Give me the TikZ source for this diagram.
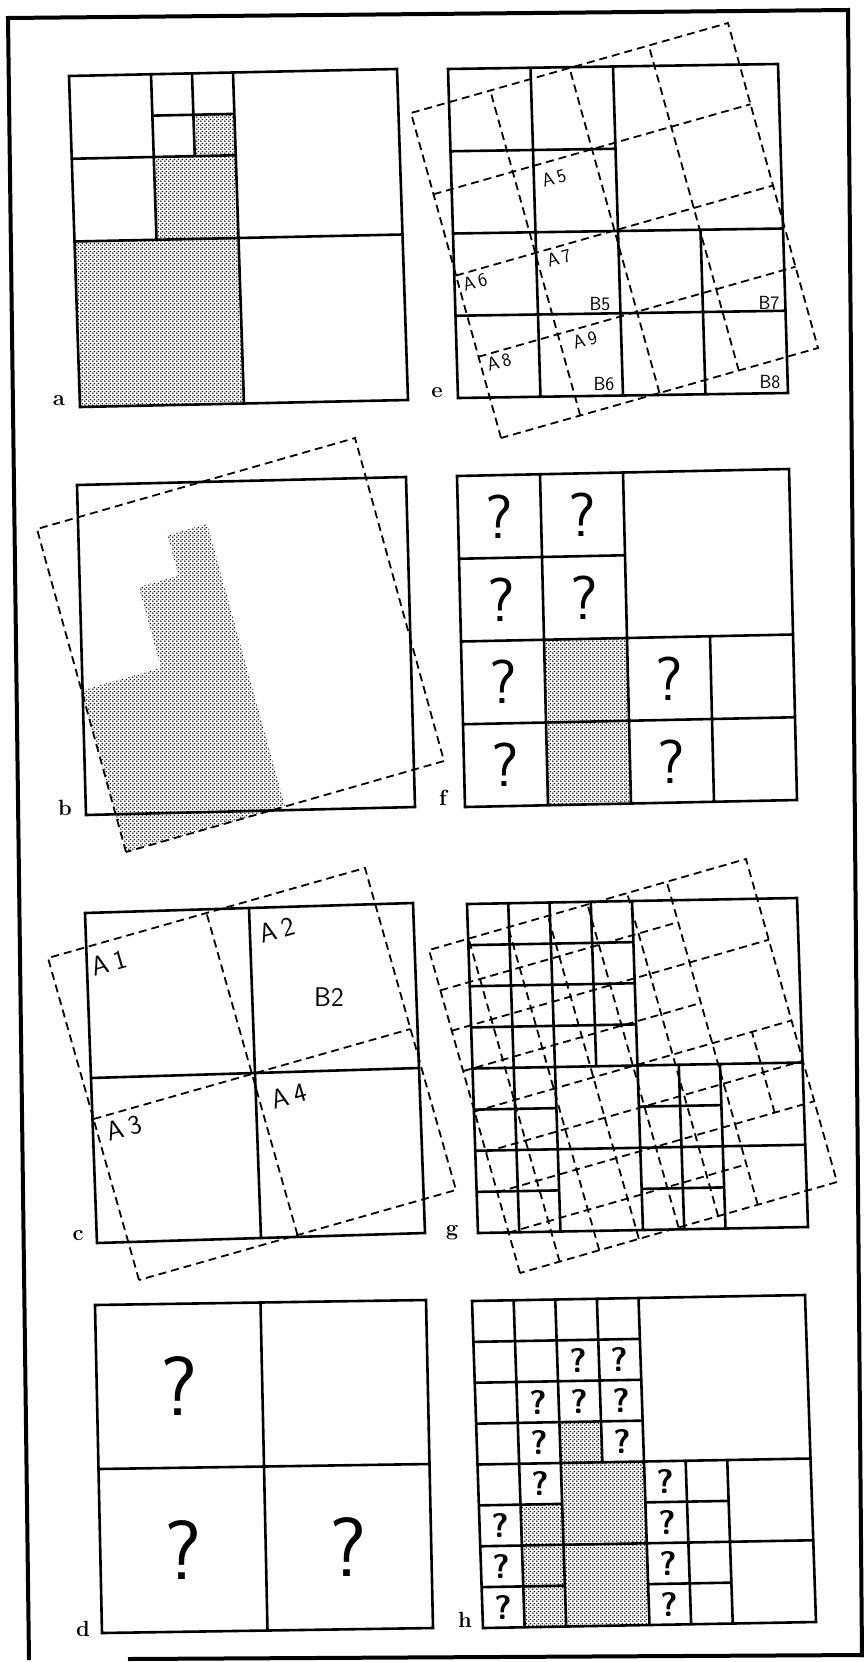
\documentclass[tikz,border=0pt]{standalone}
\usetikzlibrary{patterns}
\pgfdeclarepatternformonly{stipple}{\pgfqpoint{0pt}{0pt}}{\pgfqpoint{4pt}{4pt}}{\pgfqpoint{4pt}{4pt}}{%
  \pgfpathcircle{\pgfqpoint{1pt}{1pt}}{0.95pt}%
  \pgfpathcircle{\pgfqpoint{3pt}{3pt}}{0.95pt}%
  \pgfusepath{fill}}
\tikzset{
  fr/.style n args={6}{x=1pt,y=1pt,cm={#3,#4,#5,#6,(#1pt,#2pt)}},
  sol/.style={line width=2.6pt, line join=miter},
  dsh/.style={line width=1.8pt, dash pattern=on 8pt off 5pt},
  shade/.style={pattern=stipple, pattern color=black},
  plab/.style={font=\fontsize{22}{22}\selectfont\bfseries, anchor=base, inner sep=0pt},
  clab/.style={font=\fontsize{27}{27}\selectfont\sffamily, inner sep=0pt},
  elab/.style={font=\fontsize{19}{19}\selectfont\sffamily, inner sep=0pt},
  rot/.style={rotate=16},
  qf/.style={font=\fontsize{62}{62}\selectfont\sffamily, inner sep=0pt},
  qd/.style={font=\fontsize{84}{84}\selectfont\sffamily, inner sep=0pt},
  qh/.style={font=\fontsize{34}{34}\selectfont\sffamily\bfseries, inner sep=0pt},
}
\newcommand{\rl}[2]{#1\kern3.5pt#2}
\newcommand{\rL}[2]{#1\kern5.5pt#2}
\newcommand{\gridGH}{%
  (0,0) rectangle (1,1)
  (.5,0)--(.5,1) (0,.5)--(1,.5)
  (.125,0)--(.125,1) (.25,0)--(.25,1) (.375,.5)--(.375,1)
  (0,.625)--(.5,.625) (0,.75)--(.5,.75) (0,.875)--(.5,.875)
  (0,.375)--(.25,.375) (0,.125)--(.25,.125) (0,.25)--(1,.25)
  (.625,0)--(.625,.5) (.75,0)--(.75,.5) (.5,.375)--(.75,.375) (.5,.125)--(.75,.125)}
\newcommand{\gridEF}{%
  (0,0) rectangle (1,1)
  (.25,0)--(.25,1) (.5,0)--(.5,1) (0,.25)--(1,.25) (0,.5)--(1,.5)
  (0,.75)--(.5,.75) (.75,0)--(.75,.5)}
\begin{document}
\begin{tikzpicture}[x=1pt,y=-1pt]
\useasboundingbox (0,0) rectangle (864,1662);
% outer frame
\coordinate (fbl) at (29,1660);
\coordinate (ftl) at (8,18);
\coordinate (ftr) at (848,10);
\coordinate (fbr) at (862,1657);
\coordinate (fb1) at (128,1659);
\coordinate (fb2) at (864,1655);
\draw[line width=4pt, line join=miter] (fbl) -- (ftl) -- (ftr) -- (fbr);
\draw[line width=4pt] (fb1) -- (fb2);

% ---------- panel a ----------
\begin{scope}[fr={80}{-407}{328}{7}{-11}{331}]
  \fill[shade] (0,0) rectangle (.5,.5) (.25,.5) rectangle (.5,.75) (.375,.75) rectangle (.5,.875);
  \draw[sol] (0,0) rectangle (1,1) (.5,0)--(.5,1) (0,.5)--(1,.5)
    (.25,.5)--(.25,1) (0,.75)--(.5,.75) (.375,.75)--(.375,1) (.25,.875)--(.5,.875);
\end{scope}
\node[plab] (la) at (59,405) {a};

% ---------- panel b ----------
\begin{scope}[fr={126}{-852}{318}{91}{-89}{323}]
  \fill[shade] (0,0)--(.5,0)--(.5,.875)--(.375,.875)--(.375,.75)--(.25,.75)--(.25,.5)--(0,.5)--cycle;
\end{scope}
\begin{scope}[fr={86}{-815}{329}{8}{-9}{330}]
  \draw[sol] (0,0) rectangle (1,1);
\end{scope}
\begin{scope}[fr={126}{-852}{318}{91}{-89}{323}]
  \draw[dsh] (0,0) rectangle (1,1);
\end{scope}
\node[plab] (lb) at (65,815) {b};

% ---------- panel c ----------
\begin{scope}[fr={97}{-1243}{328}{10}{-12}{330}]
  \draw[sol] (0,0) rectangle (1,1) (.5,0)--(.5,1) (0,.5)--(1,.5);
\end{scope}
\begin{scope}[fr={139}{-1280}{317}{90}{-91}{322}]
  \draw[dsh] (0,0) rectangle (1,1) (.5,0)--(.5,1) (0,.5)--(1,.5);
\end{scope}
\node[clab,rot] (a1) at (109,963) {\rL{A}{1}};
\node[clab,rot] (a2) at (277,930) {\rL{A}{2}};
\node[clab] (b2) at (329,997) {B2};
\node[clab,rot] (a3) at (124,1128) {\rL{A}{3}};
\node[clab,rot] (a4) at (289,1096) {\rL{A}{4}};
\node[plab] (lc) at (78,1240) {c};

% ---------- panel d ----------
\begin{scope}[fr={102}{-1633}{331}{5}{-7}{328}]
  \draw[sol] (0,0) rectangle (1,1) (.5,0)--(.5,1) (0,.5)--(1,.5);
  \node[qd] (d1) at (.25,.75) {?};
  \node[qd] (d3) at (.25,.25) {?};
  \node[qd] (d4) at (.75,.25) {?};
\end{scope}
\node[plab] (ld) at (83,1636) {d};

% ---------- panel e ----------
\begin{scope}[fr={458}{-398}{330}{5}{-10}{329}]
  \draw[sol] \gridEF;
\end{scope}
\begin{scope}[fr={501}{-438}{317}{90}{-90}{325}]
  \draw[dsh] (0,0) rectangle (1,1)
    foreach \t in {.25,.5,.75}{(\t,0)--(\t,1) (0,\t)--(1,\t)};
\end{scope}
\node[elab,rot] (a5) at (554,178) {\rl{A}{5}};
\node[elab,rot] (a6) at (475,282) {\rl{A}{6}};
\node[elab,rot] (a7) at (559,258) {\rl{A}{7}};
\node[elab] (b5) at (600,304) {B5};
\node[elab] (b7) at (769,303) {B7};
\node[elab,rot] (a8) at (499,362) {\rl{A}{8}};
\node[elab,rot] (a9) at (585,340) {\rl{A}{9}};
\node[elab] (b6) at (604,384) {B6};
\node[elab] (b8) at (770,382) {B8};
\node[plab] (le) at (437,397) {e};

% ---------- panel f ----------
\begin{scope}[fr={465}{-807}{332}{7}{-8}{331}]
  \fill[shade] (.25,0) rectangle (.5,.5);
  \draw[sol] \gridEF;
  \node[qf] (f1) at (.125,.875) {?};
  \node[qf] (f2) at (.375,.875) {?};
  \node[qf] (f3) at (.125,.625) {?};
  \node[qf] (f4) at (.375,.625) {?};
  \node[qf] (f5) at (.125,.375) {?};
  \node[qf] (f6) at (.625,.375) {?};
  \node[qf] (f7) at (.125,.125) {?};
  \node[qf] (f8) at (.625,.125) {?};
\end{scope}
\node[plab] (lf) at (443,805) {f};

% ---------- panel g ----------
\begin{scope}[fr={478}{-1233}{330}{6}{-11}{329}]
  \draw[sol] \gridGH;
\end{scope}
\begin{scope}[fr={520}{-1273}{317}{91}{-91}{323}]
  \draw[dsh] (0,0) rectangle (1,1)
    foreach \t in {.25,.5,.75}{(\t,0)--(\t,1) (0,\t)--(1,\t)}
    foreach \t in {.125,.375,.625}{(\t,0)--(\t,1)}
    (.875,.25)--(.875,.5)
    (0,.125)--(.75,.125) (0,.375)--(1,.375) (0,.625)--(.75,.625) (0,.875)--(.75,.875);
\end{scope}
\node[plab] (lg) at (452,1235) {g};

% ---------- panel h ----------
\begin{scope}[fr={483}{-1628}{333}{6}{-11}{327}]
  \fill[shade] (.25,.5) rectangle (.375,.625) (.25,0) rectangle (.5,.5) (.125,0) rectangle (.25,.375);
  \draw[sol] \gridGH;
  \node[qh] (h1) at (5/16,13/16) {?};
  \node[qh] (h2) at (7/16,13/16) {?};
  \node[qh] (h3) at (3/16,11/16) {?};
  \node[qh] (h4) at (5/16,11/16) {?};
  \node[qh] (h5) at (7/16,11/16) {?};
  \node[qh] (h6) at (3/16,9/16) {?};
  \node[qh] (h7) at (7/16,9/16) {?};
  \node[qh] (h8) at (3/16,7/16) {?};
  \node[qh] (h9) at (1/16,5/16) {?};
  \node[qh] (h10) at (1/16,3/16) {?};
  \node[qh] (h11) at (1/16,1/16) {?};
  \node[qh] (h12) at (9/16,7/16) {?};
  \node[qh] (h13) at (9/16,5/16) {?};
  \node[qh] (h14) at (9/16,3/16) {?};
  \node[qh] (h15) at (9/16,1/16) {?};
\end{scope}
\node[plab] (lh) at (465,1627) {h};
\end{tikzpicture}
\end{document}
